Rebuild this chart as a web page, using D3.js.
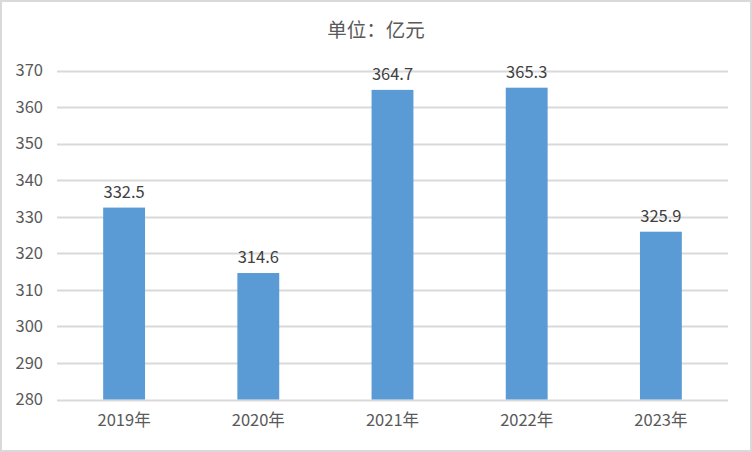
<!DOCTYPE html>
<html><head><meta charset="utf-8">
<script src="https://cdn.jsdelivr.net/npm/d3@7"></script>
<style>html,body{margin:0;padding:0;background:#fff;}svg{display:block;}</style>
</head><body>
<svg id="c" width="752" height="452"></svg>
<script>
const categories = ["2019年","2020年","2021年","2022年","2023年"];
const values = [332.5, 314.6, 364.7, 365.3, 325.9];
const yTicks = [280,290,300,310,320,330,340,350,360,370];
const title = "单位：亿元";

const svg = d3.select("#c");
const W = 752, H = 452;
const m = {left:57, right:24, top:70.5, bottom:52.5};
svg.append("rect").attr("x",1).attr("y",1).attr("width",W-2).attr("height",H-2)
  .attr("fill","#fff").attr("stroke","#d9d9d9").attr("stroke-width",2);

const x = d3.scaleBand().domain(categories).range([m.left, W-m.right]).paddingInner(0.688).paddingOuter(0.344);
const y = d3.scaleLinear().domain([280,370]).range([H-m.bottom, m.top]);
const font = "'Microsoft YaHei','Noto Sans CJK SC','DejaVu Sans',sans-serif";

svg.append("g").selectAll("line").data(yTicks).join("line")
  .attr("x1", m.left).attr("x2", W-m.right)
  .attr("y1", d=>Math.round(y(d))+0.5).attr("y2", d=>Math.round(y(d))+0.5)
  .attr("stroke","#d9d9d9").attr("stroke-width",2);

const yAxis = svg.append("g").attr("transform",`translate(${m.left},0)`)
  .call(d3.axisLeft(y).tickValues(yTicks).tickSize(0).tickPadding(14));
yAxis.select(".domain").remove();
yAxis.selectAll("text").attr("font-family",font).attr("font-size",16.5).attr("fill","#595959");

svg.append("g").selectAll("rect").data(values).join("rect")
  .attr("x",(d,i)=>x(categories[i])).attr("width",x.bandwidth())
  .attr("y",d=>y(d)).attr("height",d=>y(280)-y(d)).attr("fill","#5b9bd5");

svg.append("g").selectAll("text").data(values).join("text")
  .attr("x",(d,i)=>x(categories[i])+x.bandwidth()/2).attr("y",d=>y(d)-10)
  .attr("text-anchor","middle").attr("font-family",font).attr("font-size",16.5).attr("fill","#404040")
  .text(d=>d.toFixed(1));

const xAxis = svg.append("g").attr("transform",`translate(0,${H-m.bottom})`)
  .call(d3.axisBottom(x).tickSize(0).tickPadding(15));
xAxis.select(".domain").remove();
xAxis.selectAll("text").attr("font-family",font).attr("font-size",16.5).attr("fill","#595959");

svg.append("text").attr("x",376).attr("y",37).attr("text-anchor","middle")
  .attr("font-family",font).attr("font-size",19.5).attr("fill","#595959").text(title);
</script>
</body></html>
